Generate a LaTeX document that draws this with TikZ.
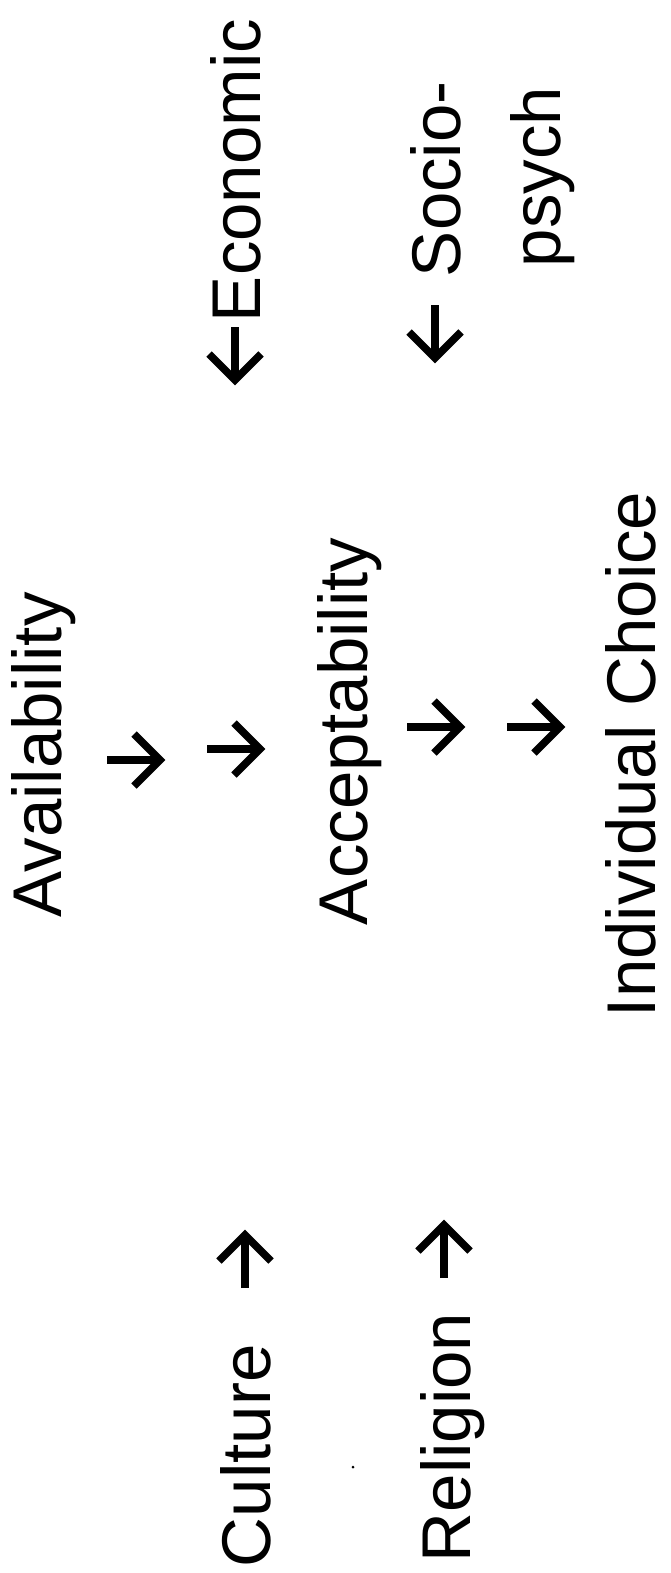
\documentclass[tikz,border=0pt]{standalone}
\usepackage{fontspec}
\setmainfont{Liberation Sans}
\begin{document}
\begin{tikzpicture}[x=1pt, y=-1pt,
  lbl/.style={rotate=90, anchor=base west, inner sep=0pt, outer sep=0pt,
              font=\fontsize{69}{80}\selectfont},
  arrowstroke/.style={line width=7.5pt, line cap=butt, line join=miter, black},
  pics/chev/.style={code={
    \draw[arrowstroke] (-28,0) -- (25,0);
    \draw[arrowstroke] (-1,-26) -- (25,0) -- (-1,26);
  }}]
  \path[use as bounding box, fill=white] (0,0) rectangle (671,1573);

  % central column
  \node[lbl] (avail)  at (61,917)   {Availability};
  \node[lbl] (accept) at (367,925)  {Acceptability};
  \node[lbl] (choice) at (655,1017) {Individual Choice};

  % influences
  \node[lbl] (culture)  at (270,1567) {Culture};
  \node[lbl] (religion) at (470,1562) {Religion};
  \node[lbl] (econ)     at (260,322)  {Economic};
  \node[lbl] (socio)    at (460,277)  {Socio-};
  \node[lbl] (psych)    at (560,267)  {psych};

  % arrows between the stages
  \pic (a1) at (135,760) {chev};
  \pic (a2) at (235,749) {chev};
  \pic (a3) at (435,727) {chev};
  \pic (a4) at (535,727) {chev};

  % arrows after the left-hand influences
  \pic[rotate=90] (cul) at (245,1260) {chev};
  \pic[rotate=90] (rel) at (444,1250) {chev};

  % arrows before the right-hand influences
  \pic[rotate=-90] (eco) at (235,355) {chev};
  \pic[rotate=-90] (soc) at (435,333) {chev};

  % small speck
  \fill (353,1467) circle (1.5);
\end{tikzpicture}
\end{document}
